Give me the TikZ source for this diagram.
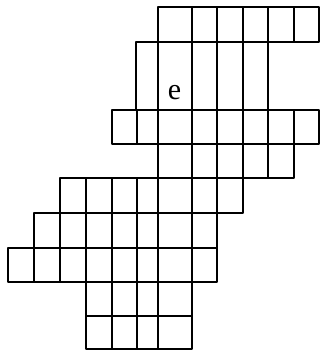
\documentclass[tikz,border=0pt]{standalone}
\usepackage{fontspec}
\setmainfont{Liberation Serif}
\begin{document}
\begin{tikzpicture}[x=1pt,y=-1pt,cell/.style={draw=black,line width=1.4pt,line join=round}]
\useasboundingbox (0,0) rectangle (320,350);
% row 1
\foreach \a/\b in {158/192,192/217,217/243,243/268,268/294,294/319}
  \draw[cell] (\a,7) rectangle (\b,42);
% row 2 (tall)
\foreach \a/\b in {136/158,158/192,192/217,217/243,243/268}
  \draw[cell] (\a,42) rectangle (\b,110);
% row 3
\foreach \a/\b in {112/137,137/158,158/192,192/217,217/243,243/268,268/294,294/319}
  \draw[cell] (\a,110) rectangle (\b,144);
% row 4
\foreach \a/\b in {158/192,192/217,217/243,243/268,268/294}
  \draw[cell] (\a,144) rectangle (\b,178);
% row 5
\foreach \a/\b in {60/86,86/112,112/137,137/158,158/192,192/217,217/243}
  \draw[cell] (\a,178) rectangle (\b,213);
% row 6
\foreach \a/\b in {34/60,60/86,86/112,112/137,137/158,158/192,192/217}
  \draw[cell] (\a,213) rectangle (\b,248);
% row 7
\foreach \a/\b in {8/34,34/60,60/86,86/112,112/137,137/158,158/192,192/217}
  \draw[cell] (\a,248) rectangle (\b,282);
% rows 8 and 9
\foreach \a/\b in {86/112,112/137,137/158,158/192}{
  \draw[cell] (\a,282) rectangle (\b,316);
  \draw[cell] (\a,316) rectangle (\b,349);
}
\node[font=\fontsize{30}{30}\selectfont, inner sep=0pt] (e) at (174.5,93) {e};
\end{tikzpicture}
\end{document}
